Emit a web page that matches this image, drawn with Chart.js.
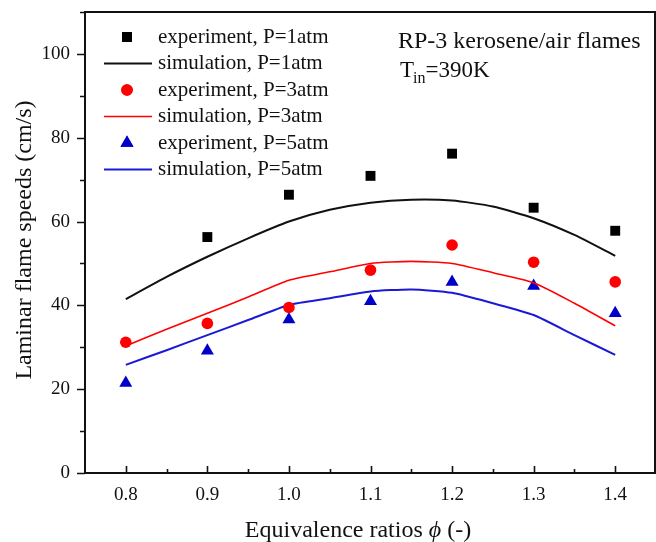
<!DOCTYPE html>
<html>
<head>
<meta charset="utf-8">
<script src="https://cdn.jsdelivr.net/npm/chart.js@4"></script>
<style>
  html, body { margin: 0; padding: 0; background: #fff; }
  #wrap { width: 656px; height: 542px; }
</style>
</head>
<body>
<div id="wrap"><canvas id="myChart" width="656" height="542"></canvas></div>
<script>
// equivalence ratios of the measured points
var expPhi = [0.8, 0.9, 1.0, 1.1, 1.2, 1.3, 1.4];
var exp1 = [null, 56.3, 66.4, 70.9, 76.2, 63.3, 57.8];
var exp3 = [31.2, 35.7, 39.5, 48.4, 54.4, 50.3, 45.6];
var exp5 = [21.5, 29.2, 36.6, 41.0, 45.6, 44.6, 38.1];

// simulation curves
var simPhi = [0.8, 0.85, 0.9, 0.95, 1.0, 1.05, 1.1, 1.15, 1.2, 1.25, 1.3, 1.35, 1.4];
var sim1 = [41.5, 46.8, 51.6, 56.0, 60.0, 62.8, 64.5, 65.2, 65.0, 63.6, 60.8, 56.8, 51.8];
var sim3 = [30.3, 34.3, 38.1, 42.0, 46.0, 48.0, 50.0, 50.5, 50.0, 47.8, 45.4, 40.5, 35.1];
var sim5 = [25.8, 29.3, 32.9, 36.5, 40.1, 41.7, 43.3, 43.8, 43.0, 40.5, 37.7, 32.9, 28.2];

var xTicks = [0.8, 0.9, 1.0, 1.1, 1.2, 1.3, 1.4];
var yTicks = [0, 20, 40, 60, 80, 100];

var serif = '"Liberation Serif", "Times New Roman", serif';

function pts(xs, ys) {
    var out = [];
    for (var i = 0; i < xs.length; i++) {
        if (ys[i] !== null) out.push({x: xs[i], y: ys[i]});
    }
    return out;
}

// frame, inward/outward ticks, titles, legend and note
var decor = {
    id: 'decor',
    afterDraw: function(chart) {
        var ctx = chart.ctx;
        var a = chart.chartArea;
        var xs = chart.scales.x, ys = chart.scales.y;
        ctx.save();
        ctx.strokeStyle = '#111';
        ctx.lineWidth = 2;
        ctx.strokeRect(a.left, a.top, a.right - a.left - 1, a.bottom - a.top);

        ctx.lineWidth = 1.6;
        ctx.beginPath();
        for (var v = 0; v <= 110; v += 10) {
            var py = Math.round(ys.getPixelForValue(v)) + 0.5;
            var len = (v % 20 === 0) ? 8 : 5;
            ctx.moveTo(a.left - len, py);
            ctx.lineTo(a.left, py);
        }
        for (var k = 16; k <= 28; k++) {
            var px = Math.round(xs.getPixelForValue(k * 0.05)) + 0.5;
            var l2 = (k % 2 === 0) ? 7 : 4;
            ctx.moveTo(px, a.bottom);
            ctx.lineTo(px, a.bottom - l2);
        }
        ctx.stroke();

        // axis titles
        ctx.fillStyle = '#111';
        ctx.textBaseline = 'alphabetic';
        var t1 = 'Equivalence ratios ';
        var t2 = '\u03D5';
        var t3 = ' (-)';
        ctx.font = '24px ' + serif;
        var w1 = ctx.measureText(t1).width, w3 = ctx.measureText(t3).width;
        ctx.font = 'italic 24px ' + serif;
        var w2 = ctx.measureText(t2).width;
        var tx = 358 - (w1 + w2 + w3) / 2;
        ctx.textAlign = 'left';
        ctx.font = '24px ' + serif;
        ctx.fillText(t1, tx, 537);
        ctx.font = 'italic 24px ' + serif;
        ctx.fillText(t2, tx + w1, 537);
        ctx.font = '24px ' + serif;
        ctx.fillText(t3, tx + w1 + w2, 537);

        ctx.save();
        ctx.translate(31, 240);
        ctx.rotate(-Math.PI / 2);
        ctx.textAlign = 'center';
        ctx.fillText('Laminar flame speeds (cm/s)', 0, 0);
        ctx.restore();

        // legend
        ctx.textBaseline = 'middle';
        ctx.font = '21px ' + serif;
        ctx.textAlign = 'left';
        chart.data.datasets.forEach(function(ds, i) {
            var ry = 37 + i * 26.5;
            if (ds.showLine === false) {
                ctx.fillStyle = ds.backgroundColor;
                ctx.strokeStyle = ds.borderColor;
                Chart.helpers.drawPoint(ctx, {pointStyle: ds.pointStyle, radius: ds.pointRadius, borderWidth: 0}, 127, ry);
                ctx.fill();
            } else {
                ctx.strokeStyle = ds.borderColor;
                ctx.lineWidth = ds.borderWidth;
                ctx.beginPath();
                ctx.moveTo(104, ry);
                ctx.lineTo(152, ry);
                ctx.stroke();
            }
            ctx.fillStyle = '#111';
            ctx.fillText(ds.label, 158, ry);
        });

        // note
        ctx.font = '24px ' + serif;
        ctx.fillText('RP-3 kerosene/air flames', 398, 42);
        ctx.font = '23px ' + serif;
        ctx.fillText('T', 400, 71);
        var wt = ctx.measureText('T').width;
        ctx.font = '16px ' + serif;
        ctx.fillText('in', 400 + wt - 1, 79);
        var wi = ctx.measureText('in').width;
        ctx.font = '23px ' + serif;
        ctx.fillText('=390K', 400 + wt + wi - 1, 71);
        ctx.restore();
    }
};

var ctx = document.getElementById('myChart').getContext('2d');
var myChart = new Chart(ctx, {
    type: 'scatter',
    data: {
        datasets: [
            {label: 'experiment, P=1atm', data: pts(expPhi, exp1), showLine: false,
             pointStyle: 'rect', pointRadius: 7, backgroundColor: '#000', borderColor: '#000', borderWidth: 0},
            {label: 'simulation, P=1atm', data: pts(simPhi, sim1), showLine: true, pointRadius: 0,
             borderColor: '#111', borderWidth: 2, tension: 0.2},
            {label: 'experiment, P=3atm', data: pts(expPhi, exp3), showLine: false,
             pointStyle: 'circle', pointRadius: 5.8, backgroundColor: '#f00', borderColor: '#f00', borderWidth: 0},
            {label: 'simulation, P=3atm', data: pts(simPhi, sim3), showLine: true, pointRadius: 0,
             borderColor: '#f00', borderWidth: 1.6, tension: 0.2},
            {label: 'experiment, P=5atm', data: pts(expPhi, exp5), showLine: false,
             pointStyle: 'triangle', pointRadius: 7.5, backgroundColor: '#0000c8', borderColor: '#0000c8', borderWidth: 0},
            {label: 'simulation, P=5atm', data: pts(simPhi, sim5), showLine: true, pointRadius: 0,
             borderColor: '#1a1ad6', borderWidth: 2, tension: 0.2}
        ]
    },
    options: {
        responsive: false,
        animation: false,
        layout: {autoPadding: false, padding: {top: 12, right: 0, left: 0, bottom: 0}},
        plugins: {legend: {display: false}, tooltip: {enabled: false}},
        scales: {
            x: {
                type: 'linear', min: 0.75, max: 1.45,
                grid: {display: false, drawTicks: false},
                border: {display: false},
                afterBuildTicks: function(s) { s.ticks = xTicks.map(function(v) { return {value: v}; }); },
                afterFit: function(s) { s.height = 69; s.paddingLeft = 0; s.paddingRight = 0; },
                ticks: {
                    padding: 11, color: '#111', font: {family: serif, size: 19},
                    callback: function(v) { return v.toFixed(1); }
                }
            },
            y: {
                min: 0, max: 110,
                grid: {display: false, drawTicks: false},
                border: {display: false},
                afterBuildTicks: function(s) { s.ticks = yTicks.map(function(v) { return {value: v}; }); },
                afterFit: function(s) { s.width = 85; s.paddingTop = 0; s.paddingBottom = 0; },
                ticks: {padding: 15, color: '#111', font: {family: serif, size: 19}}
            }
        }
    },
    plugins: [decor]
});
</script>
</body>
</html>
